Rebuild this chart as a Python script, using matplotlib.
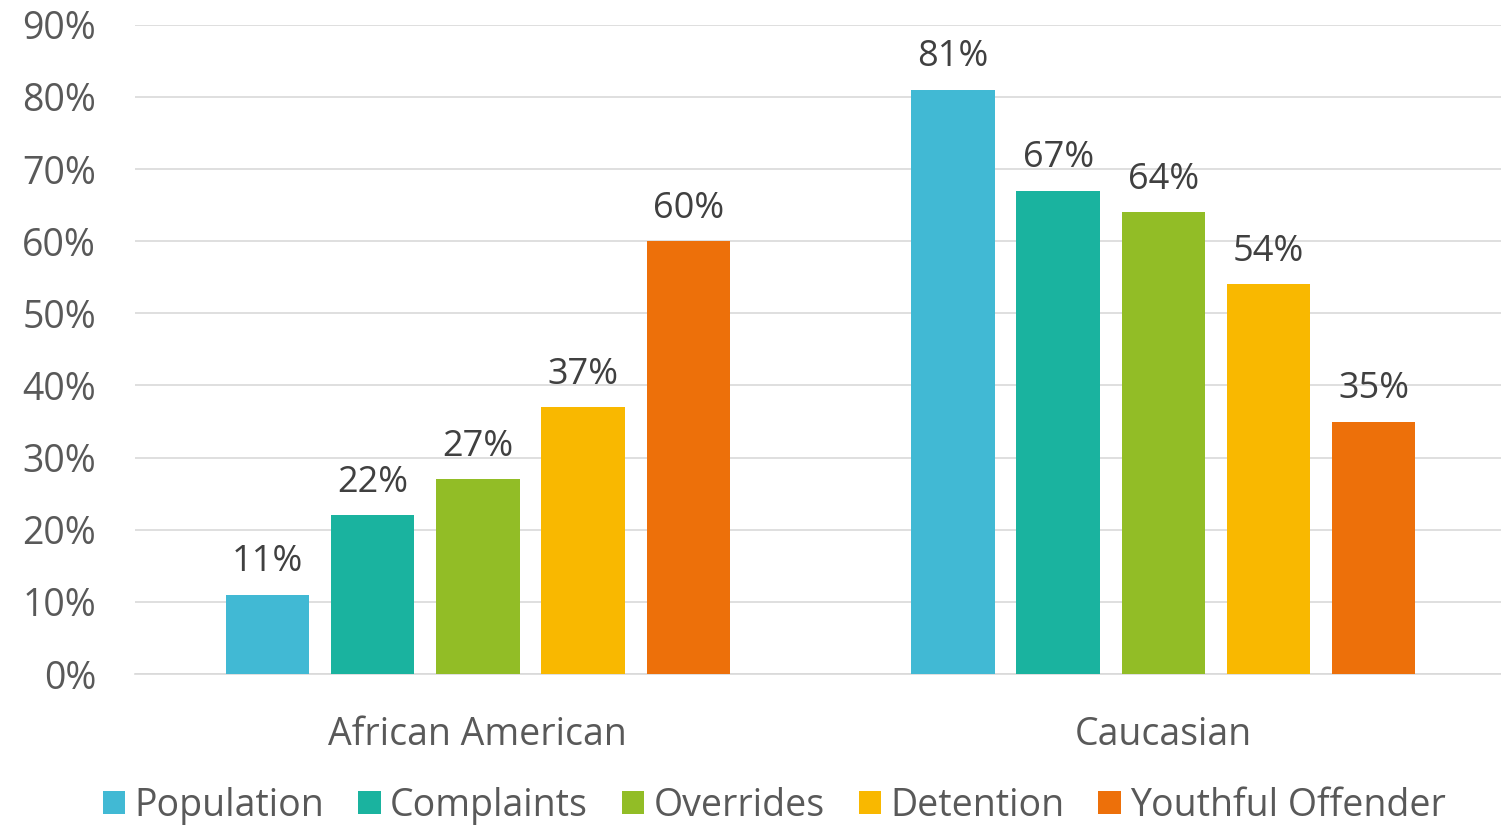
import matplotlib
matplotlib.use("Agg")
import matplotlib.pyplot as plt
import numpy as np

categories = ["African American", "Caucasian"]
series = ["Population", "Complaints", "Overrides", "Detention", "Youthful Offender"]
values = {
    "Population": [11, 81],
    "Complaints": [22, 67],
    "Overrides": [27, 64],
    "Detention": [37, 54],
    "Youthful Offender": [60, 35],
}
colors = ["#41B9D4", "#1AB39F", "#92BD26", "#F9B800", "#ED700A"]
yticks = [0, 10, 20, 30, 40, 50, 60, 70, 80, 90]

plt.rcParams['font.family'] = ['Open Sans', 'DejaVu Sans']
fig = plt.figure(figsize=(15.01, 8.27), dpi=100)
ax = fig.add_axes([0.09, 0.185, 0.9134, 0.785])

x = np.arange(len(categories))
width = 0.1216
step = 0.1535
text_color = "#595959"
for i, s in enumerate(series):
    pos = x + (i - 2) * step
    bars = ax.bar(pos, values[s], width=width, color=colors[i], label=s, zorder=3)
    for b, v in zip(bars, values[s]):
        ax.text(b.get_x() + b.get_width() / 2, v + 2.0, f"{v}%", ha="center", va="bottom",
                fontsize=26, color="#404040")

ax.set_xlim(-0.5, 1.5)
ax.set_ylim(0, 90)
ax.set_yticks(yticks)
ax.set_yticklabels([f"{t}%" for t in yticks], fontsize=27, color=text_color)
ax.set_xticks(x)
ax.set_xticklabels(categories, fontsize=27, color=text_color)
ax.tick_params(axis='y', length=0, pad=28)
ax.tick_params(axis='x', length=0, pad=30)
ax.grid(axis='y', color="#D9D9D9", linewidth=1.2, zorder=0)
for sp in ["top", "right", "left"]:
    ax.spines[sp].set_visible(False)
ax.spines["bottom"].set_color("#D9D9D9")
ax.spines["bottom"].set_linewidth(1.2)

leg = fig.legend(loc="lower center", bbox_to_anchor=(0.516, -0.038), ncol=5, frameon=False,
                 fontsize=27, handlelength=0.6, handleheight=0.6, handletextpad=0.25,
                 columnspacing=0.9)
for t in leg.get_texts():
    t.set_color(text_color)

fig.savefig("out.png", dpi=100)
